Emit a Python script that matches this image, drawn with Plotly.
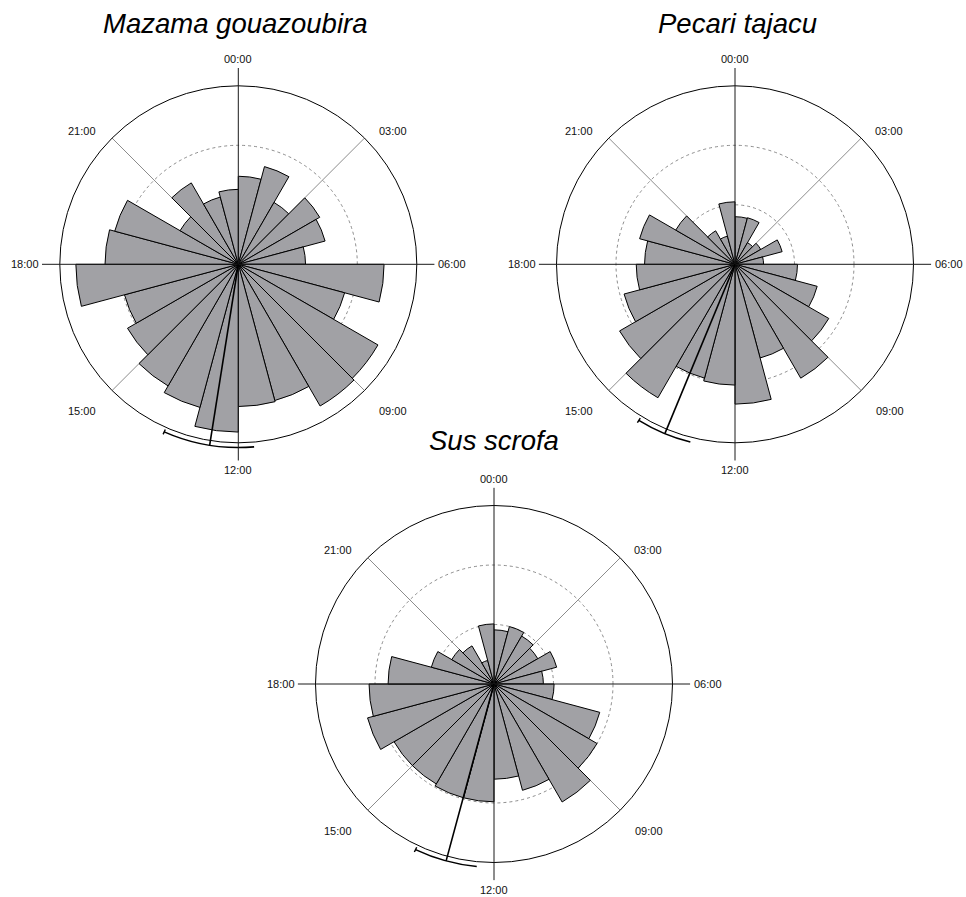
import math
import plotly.graph_objects as go

# ---------------- data ----------------
HOURS = list(range(24))
TICK_LABELS = ["00:00", "03:00", "06:00", "09:00", "12:00", "15:00", "18:00", "21:00"]
SPECIES = ["Mazama gouazoubira", "Pecari tajacu", "Sus scrofa"]

# radial length of each hourly bar (plot units, outer circle = 3)
mazama = [1.48, 1.70, 1.20, 1.58, 1.51, 1.13, 2.45, 1.85, 2.71, 2.75, 2.37, 2.39,
          2.82, 2.49, 2.36, 2.15, 1.98, 2.73, 2.24, 2.15, 1.13, 1.58, 1.17, 1.26]
pecari = [0.80, 0.81, 0.42, 0.50, 0.82, 0.48, 1.05, 1.43, 1.82, 2.21, 1.63, 2.35,
          2.03, 1.98, 2.59, 2.24, 1.93, 1.66, 1.52, 1.66, 1.15, 0.65, 0.49, 1.05]
sus = [0.91, 1.00, 0.93, 0.85, 1.09, 0.83, 1.01, 1.84, 2.00, 2.29, 1.85, 1.60,
       1.98, 1.98, 1.94, 1.94, 2.20, 2.10, 1.78, 1.09, 0.82, 0.74, 0.41, 1.01]
VALUES = [mazama, pecari, sus]

# mean activity time and its confidence interval (hours)
mean_hour = [12.60, 13.50, 13.01]
ci_low = [11.67, 12.94, 12.36]
ci_high = [13.59, 14.11, 13.69]

# ---------------- layout constants ----------------
W, H = 966, 897
UNIT = 59.5                      # px per radial unit
CENTERS = [(238.3, 264.3), (735.0, 264.3), (494.0, 684.0)]
R_GRID = 3.0
R_DATA = 3.3
R_MEAN = 3.08
DEG_PER_HOUR = 15.0
# hour-label placement: (angle in degrees clockwise from top, radius in plot units)
LABEL_POS = {"00:00": (0.0, 3.45), "03:00": (49.1, 3.43), "06:00": (90.0, 3.59),
             "09:00": (133.4, 3.59), "12:00": (180.0, 3.46), "15:00": (226.8, 3.60),
             "18:00": (270.0, 3.58), "21:00": (310.6, 3.45)}
TITLE_POS = [(235.0, 23.5), (737.0, 23.5), (493.5, 440.0)]
BAR_COLOR = "#A1A1A5"
FONT = "Liberation Sans, Arial, sans-serif"


def domain(cx, cy, rr):
    R = rr * UNIT
    return dict(x=[(cx - R) / W, (cx + R) / W], y=[1 - (cy + R) / H, 1 - (cy - R) / H])


fig = go.Figure()
layout = {}
annotations = []

for k in range(3):
    grid_id = "polar" if k == 0 else f"polar{k + 1}"
    data_id = f"polar{k + 4}"
    cx, cy = CENTERS[k]

    # grid polar (drawn first, beneath the bars)
    layout[grid_id] = dict(
        domain=domain(cx, cy, R_GRID),
        bgcolor="white",
        angularaxis=dict(direction="clockwise", rotation=90, showline=True, linecolor="black",
                         linewidth=1, showgrid=True, gridcolor="#8c8c8c", gridwidth=1,
                         tickmode="array", tickvals=[45, 135, 225, 315],
                         showticklabels=False, ticks=""),
        radialaxis=dict(range=[0, R_GRID], showline=False, showticklabels=False, ticks="",
                        showgrid=True, tickmode="array", tickvals=[1, 2],
                        gridcolor="#707070", gridwidth=0.8, griddash="dot"),
    )
    fig.add_trace(go.Scatterpolar(r=[0], theta=[0], mode="lines", subplot=grid_id,
                                  showlegend=False, hoverinfo="skip"))

    # data polar (drawn above)
    layout[data_id] = dict(
        domain=domain(cx, cy, R_DATA),
        bgcolor="rgba(0,0,0,0)",
        angularaxis=dict(direction="clockwise", rotation=90, showline=False, showgrid=False,
                         showticklabels=False, ticks=""),
        radialaxis=dict(range=[0, R_DATA], visible=False),
    )

    fig.add_trace(go.Barpolar(
        r=VALUES[k], theta=[(h + 0.5) * DEG_PER_HOUR for h in HOURS],
        width=[DEG_PER_HOUR] * 24, subplot=data_id,
        marker=dict(color=BAR_COLOR, line=dict(color="black", width=1)),
        showlegend=False, hoverinfo="skip"))

    # confidence arc with end cap
    lo, hi = ci_low[k] * DEG_PER_HOUR, ci_high[k] * DEG_PER_HOUR
    fig.add_trace(go.Barpolar(
        r=[0.026], base=[R_MEAN - 0.013], theta=[(lo + hi) / 2], width=[hi - lo],
        subplot=data_id, marker=dict(color="black", line=dict(width=0)),
        showlegend=False, hoverinfo="skip"))
    fig.add_trace(go.Barpolar(
        r=[0.09], base=[R_MEAN - 0.045], theta=[hi], width=[0.45],
        subplot=data_id, marker=dict(color="black", line=dict(width=0)),
        showlegend=False, hoverinfo="skip"))

    # main axes lines 00-12 and 06-18
    fig.add_trace(go.Scatterpolar(
        r=[R_DATA, 0, R_DATA, None, R_DATA, 0, R_DATA],
        theta=[0, 0, 180, None, 90, 90, 270], mode="lines", subplot=data_id,
        line=dict(color="#1a1a1a", width=1), showlegend=False, hoverinfo="skip"))

    # mean direction
    fig.add_trace(go.Scatterpolar(
        r=[0, R_MEAN], theta=[mean_hour[k] * DEG_PER_HOUR] * 2, mode="lines",
        subplot=data_id, line=dict(color="black", width=1.6),
        showlegend=False, hoverinfo="skip"))

    # hour labels around the dial
    for lab in TICK_LABELS:
        ang, rr = LABEL_POS[lab]
        px = cx + rr * UNIT * math.sin(math.radians(ang))
        py = cy - rr * UNIT * math.cos(math.radians(ang))
        annotations.append(dict(text=lab, x=px / W, y=1 - py / H, xref="paper", yref="paper",
                                xanchor="center", yanchor="middle", showarrow=False,
                                font=dict(family=FONT, size=11, color="#111")))

    # species title
    tx, ty = TITLE_POS[k]
    annotations.append(dict(text=f"<i>{SPECIES[k]}</i>", x=tx / W, y=1 - ty / H,
                            xref="paper", yref="paper", xanchor="center", yanchor="middle",
                            showarrow=False, font=dict(family=FONT, size=27.5, color="black")))

fig.update_layout(width=W, height=H, margin=dict(l=0, r=0, t=0, b=0),
                  paper_bgcolor="white", plot_bgcolor="white", showlegend=False,
                  annotations=annotations, **layout)

fig.write_html("out.html", config={"displayModeBar": False, "staticPlot": True},
               post_script="document.body.style.margin='0px';")
